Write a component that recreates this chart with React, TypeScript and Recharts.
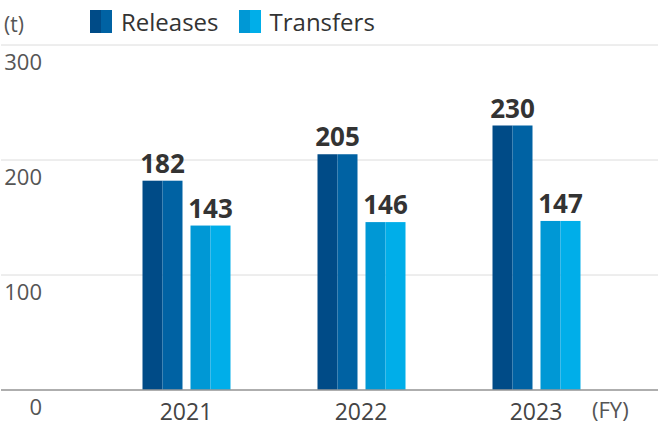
import { Bar, BarChart, CartesianGrid, LabelList, XAxis, YAxis } from "recharts";

const years = ["2021", "2022", "2023"];
const releases = [182, 205, 230];
const transfers = [143, 146, 147];
const yTicks = [0, 100, 200, 300];

const data = years.map((year, i) => ({ year, releases: releases[i], transfers: transfers[i] }));

const FONT = "'Open Sans', 'Noto Sans', sans-serif";
const REL = ["#004b87", "#0062a3"];
const TRA = ["#0098d5", "#00aee9"];

function TwoTone(colors: string[]) {
  return (props: any) => {
    const { x, y, width, height } = props;
    if (height <= 0) return null;
    const half = width / 2;
    return (
      <g>
        <rect x={x} y={y} width={half} height={height} fill={colors[0]} />
        <rect x={x + half} y={y} width={width - half} height={height} fill={colors[1]} />
      </g>
    );
  };
}

// y labels sit just under their gridline, right-aligned near the left edge
const yTick = (props: any) => {
  const { y, payload } = props;
  return (
    <text x={42} y={y + 25} fontSize={22} fill="#555" fontFamily={FONT} textAnchor="end">
      {payload.value}
    </text>
  );
};

const xTick = (props: any) => {
  const { x, y, payload } = props;
  return (
    <text x={x} y={y + 22} textAnchor="middle" fontSize={23} fill="#444" fontFamily={FONT}>
      {payload.value}
    </text>
  );
};

function Swatch({ colors }: { colors: string[] }) {
  return (
    <span style={{ display: "inline-flex", width: 22, height: 23 }}>
      <span style={{ width: 11, background: colors[0] }} />
      <span style={{ width: 11, background: colors[1] }} />
    </span>
  );
}

export default function App() {
  return (
    <div style={{ position: "absolute", left: 0, top: 0, width: 658, height: 440, fontFamily: FONT, background: "#fff" }}>
      <div style={{ position: "absolute", left: 4, top: 10, fontSize: 21, color: "#555" }}>(t)</div>
      <div style={{ position: "absolute", left: 90, top: 5, display: "flex", alignItems: "center", fontSize: 24, color: "#333" }}>
        <Swatch colors={REL} />
        <span style={{ marginLeft: 9 }}>Releases</span>
        <span style={{ marginLeft: 20 }} />
        <Swatch colors={TRA} />
        <span style={{ marginLeft: 9 }}>Transfers</span>
      </div>
      <div style={{ position: "absolute", left: 592, top: 394, fontSize: 22, color: "#555" }}>(FY)</div>
      <BarChart
        width={658}
        height={440}
        data={data}
        margin={{ top: 45, right: 0, left: 0, bottom: 20 }}
        barSize={40}
        barGap={8}
      >
        <CartesianGrid vertical={false} stroke="#dcdcdc" strokeWidth={1} />
        <YAxis
          width={1}
          domain={[0, 300]}
          ticks={yTicks}
          axisLine={false}
          tickLine={false}
          tick={yTick}
          interval={0}
        />
        <XAxis
          dataKey="year"
          height={30}
          padding={{ left: 97.5, right: 34.5 }}
          axisLine={{ stroke: "#999", strokeWidth: 1.5 }}
          tickLine={false}
          tick={xTick}
        />
        <Bar dataKey="releases" shape={TwoTone(REL)} isAnimationActive={false}>
          <LabelList dataKey="releases" position="top" offset={8} fontSize={26} fontWeight="bold" fill="#333" fontFamily={FONT} />
        </Bar>
        <Bar dataKey="transfers" shape={TwoTone(TRA)} isAnimationActive={false}>
          <LabelList dataKey="transfers" position="top" offset={8} fontSize={26} fontWeight="bold" fill="#333" fontFamily={FONT} />
        </Bar>
      </BarChart>
    </div>
  );
}
